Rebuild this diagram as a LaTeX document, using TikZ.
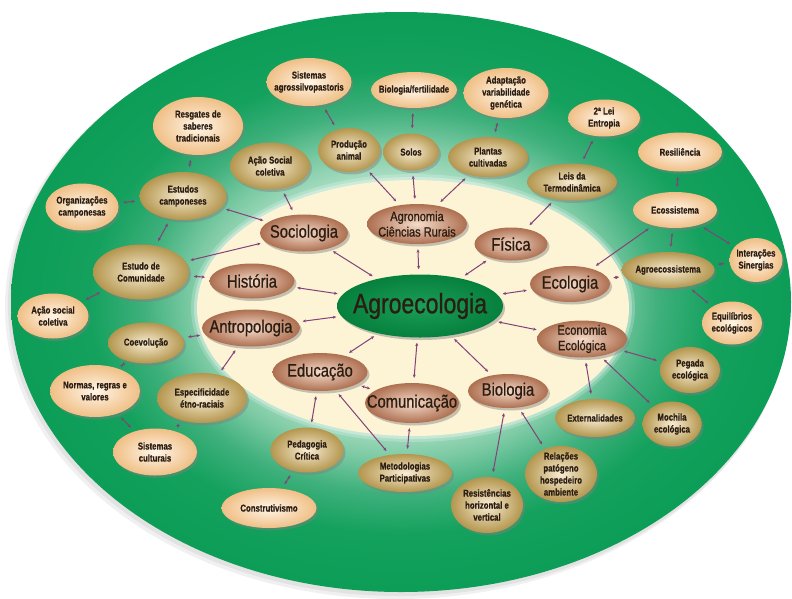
\documentclass[tikz,border=0pt]{standalone}
\usepackage{fontspec}
\setmainfont{Liberation Sans}
\newfontfamily\condfont{Liberation Sans}[FakeStretch=0.78,FakeBold=0.5]
\newfontfamily\midfont{Liberation Sans}[FakeStretch=0.82,FakeBold=0.8]
\usetikzlibrary{shapes.geometric,shadows,arrows.meta}
\definecolor{mintA}{HTML}{A6DCC0}
\definecolor{mintB}{HTML}{7CCAA4}
\definecolor{greenM}{HTML}{3FB07C}
\definecolor{greenN}{HTML}{14A15D}
\definecolor{greenD}{HTML}{0C9D57}
\definecolor{cream}{HTML}{FCF4D4}
\definecolor{brin}{HTML}{F6DCCB}
\definecolor{brout}{HTML}{AD6F50}
\definecolor{goin}{HTML}{F8EDD4}
\definecolor{goout}{HTML}{B4964E}
\definecolor{pein}{HTML}{FFF6E8}
\definecolor{peout}{HTML}{F0BF86}
\definecolor{txt}{HTML}{2B1D12}
\definecolor{lnk}{HTML}{834279}
\definecolor{agin}{HTML}{1B9E58}
\definecolor{agout}{HTML}{06803D}
\pgfdeclareradialshading{ringshade}{\pgfpoint{0bp}{0bp}}{color(0bp)=(mintA); color(11bp)=(mintA); color(13.5bp)=(mintB); color(16.5bp)=(greenM); color(20bp)=(greenN); color(25bp)=(greenD); color(50bp)=(greenD)}
\tikzset{
  base/.style={ellipse, inner sep=0pt, drop shadow={opacity=0.45, shadow xshift=2pt, shadow yshift=-2.5pt}},
  midn/.style={base, inner color=brin, outer color=brout},
  goldn/.style={base, inner color=goin, outer color=goout},
  peachn/.style={base, inner color=pein, outer color=peout},
  olab/.style={font=\condfont\bfseries\fontsize{10}{12}\selectfont, align=center, text=txt, inner sep=0pt},
  mlab/.style={font=\midfont\fontsize{18}{20}\selectfont, align=center, text=txt, inner sep=0pt},
  slab/.style={font=\midfont\fontsize{13.5}{15.5}\selectfont, align=center, text=txt, inner sep=0pt},
  link/.style={draw=lnk, line width=1pt, {Stealth[length=3.5pt,width=3pt]}-{Stealth[length=3.5pt,width=3pt]}, shorten <=5pt, shorten >=5pt},
}
\begin{document}
\begin{tikzpicture}[x=1pt,y=-1pt]
\useasboundingbox (0,0) rectangle (792,598);
% outer green ellipse with soft shadow
\fill[black, opacity=0.06] (397,307) ellipse [x radius=392pt, y radius=292pt];
\fill[black, opacity=0.06] (399,305) ellipse [x radius=391pt, y radius=291pt];
\shade[shading=ringshade] (401,302) ellipse [x radius=390pt, y radius=290pt];
% inner cream ellipse with glow
\fill[white, opacity=0.2] (413,308) ellipse [x radius=222pt, y radius=134pt];
\fill[white, opacity=0.3] (413,308) ellipse [x radius=219pt, y radius=131pt];
\fill[cream] (413,308) ellipse [x radius=216pt, y radius=128pt];

% centre
\node[ellipse, inner sep=0pt, minimum width=166pt, minimum height=63pt, inner color=agin, outer color=agout,
  drop shadow={opacity=0.45, shadow xshift=2pt, shadow yshift=-2.5pt},
  label={[font=\midfont\fontsize{28}{30}\selectfont, text=txt, inner sep=0pt]center:{Agroecologia}}] (agro) at (420,306) {};

% middle ring
\node[midn, minimum width=88pt, minimum height=37pt, label={[mlab]center:{Sociologia}}] (soc) at (304,233) {};
\node[midn, minimum width=100pt, minimum height=40pt, label={[slab]center:{Agronomia\\Ciências Rurais}}] (agron) at (417,224) {};
\node[midn, minimum width=73pt, minimum height=33pt, label={[mlab]center:{Física}}] (fis) at (511,244) {};
\node[midn, minimum width=80pt, minimum height=36pt, label={[mlab]center:{Ecologia}}] (ecol) at (570,284) {};
\node[midn, minimum width=90pt, minimum height=37pt, label={[slab]center:{Economia\\Ecológica}}] (econ) at (582,339) {};
\node[midn, minimum width=80pt, minimum height=34pt, label={[mlab]center:{Biologia}}] (biol) at (508,391) {};
\node[midn, minimum width=94pt, minimum height=40pt, label={[mlab]center:{Comunicação}}] (comun) at (412,403) {};
\node[midn, minimum width=95pt, minimum height=38pt, label={[mlab]center:{Educação}}] (educ) at (320,372) {};
\node[midn, minimum width=98pt, minimum height=37pt, label={[mlab]center:{Antropologia}}] (antro) at (251,328) {};
\node[midn, minimum width=85pt, minimum height=35pt, label={[mlab]center:{História}}] (hist) at (252,281) {};

% outer ring
\node[peachn, minimum width=85pt, minimum height=48pt, label={[olab]center:{Sistemas\\agrossilvopastoris}}] (sist) at (309,82) {};
\node[peachn, minimum width=86pt, minimum height=36pt, label={[olab]center:{Biologia/fertilidade}}] (biofert) at (414,90) {};
\node[peachn, minimum width=85pt, minimum height=50pt, label={[olab]center:{Adaptação\\variabilidade\\genética}}] (adapt) at (506,93) {};
\node[peachn, minimum width=90pt, minimum height=58pt, label={[olab]center:{Resgates de\\saberes\\tradicionais}}] (resg) at (198,126) {};
\node[goldn, minimum width=80pt, minimum height=47pt, label={[olab]center:{Ação Social\\coletiva}}] (acaosoc) at (270,166) {};
\node[goldn, minimum width=62pt, minimum height=44pt, label={[olab]center:{Produção\\animal}}] (prod) at (349,150) {};
\node[goldn, minimum width=56pt, minimum height=37pt, label={[olab]center:{Solos}}] (solos) at (411,152) {};
\node[goldn, minimum width=80pt, minimum height=40pt, label={[olab]center:{Plantas\\cultivadas}}] (plantas) at (488,157) {};
\node[peachn, minimum width=72pt, minimum height=37pt, label={[olab]center:{2ª Lei\\Entropia}}] (lei2) at (604,118) {};
\node[goldn, minimum width=90pt, minimum height=37pt, label={[olab]center:{Leis da\\Termodinâmica}}] (termo) at (572,182) {};
\node[peachn, minimum width=84pt, minimum height=39pt, label={[olab]center:{Resiliência}}] (resil) at (680,152) {};
\node[peachn, minimum width=73pt, minimum height=47pt, label={[olab]center:{Organizações\\camponesas}}] (org) at (82,207) {};
\node[goldn, minimum width=87pt, minimum height=48pt, label={[olab]center:{Estudos\\camponeses}}] (estcamp) at (183,196) {};
\node[peachn, minimum width=84pt, minimum height=36pt, label={[olab]center:{Ecossistema}}] (ecos) at (675,210) {};
\node[peachn, minimum width=53pt, minimum height=44pt, label={[olab]center:{Interações\\Sinergias}}] (inter) at (756,260) {};
\node[goldn, minimum width=93pt, minimum height=36pt, label={[olab]center:{Agroecossistema}}] (agroecos) at (668,270) {};
\node[goldn, minimum width=96pt, minimum height=55pt, label={[olab]center:{Estudo de\\Comunidade}}] (estcom) at (141,272) {};
\node[peachn, minimum width=71pt, minimum height=45pt, label={[olab]center:{Ação social\\coletiva}}] (acaosoc2) at (53,316) {};
\node[peachn, minimum width=60pt, minimum height=43pt, label={[olab]center:{Equilíbrios\\ecológicos}}] (equil) at (732,323) {};
\node[goldn, minimum width=76pt, minimum height=41pt, label={[olab]center:{Coevolução}}] (coev) at (146,343) {};
\node[peachn, minimum width=90pt, minimum height=52pt, label={[olab]center:{Normas, regras e\\valores}}] (normas) at (95,391) {};
\node[goldn, minimum width=90pt, minimum height=50pt, label={[olab]center:{Especificidade\\étno-raciais}}] (espec) at (202,398) {};
\node[goldn, minimum width=60pt, minimum height=46pt, label={[olab]center:{Pegada\\ecológica}}] (pegada) at (690,370) {};
\node[goldn, minimum width=80pt, minimum height=38pt, label={[olab]center:{Externalidades}}] (extern) at (595,418) {};
\node[goldn, minimum width=59pt, minimum height=45pt, label={[olab]center:{Mochila\\ecológica}}] (mochila) at (672,424) {};
\node[peachn, minimum width=84pt, minimum height=47pt, label={[olab]center:{Sistemas\\culturais}}] (sistcult) at (155,452) {};
\node[goldn, minimum width=73pt, minimum height=45pt, label={[olab]center:{Pedagogia\\Crítica}}] (pedag) at (307,450) {};
\node[goldn, minimum width=94pt, minimum height=38pt, label={[olab]center:{Metodologias\\Participativas}}] (metod) at (405,473) {};
\node[goldn, minimum width=72pt, minimum height=56pt, label={[olab]center:{Relações\\patógeno\\hospedeiro\\ambiente}}] (relac) at (561,474) {};
\node[goldn, minimum width=72pt, minimum height=56pt, label={[olab]center:{Resistências\\horizontal e\\vertical}}] (resist) at (487,505) {};
\node[peachn, minimum width=95pt, minimum height=40pt, label={[olab]center:{Construtivismo}}] (constr) at (269,508) {};

% connectors
\foreach \a/\b in {sist/prod, prod/agron, biofert/solos, solos/agron, adapt/plantas, plantas/agron,
  lei2/termo, termo/fis, resil/ecos, ecos/agroecos, ecos/inter, agroecos/inter, agroecos/equil,
  agroecos/ecol, ecos/ecol, fis/agro, ecol/agro, agro/econ, econ/pegada, econ/extern, econ/mochila,
  agro/biol, biol/resist, biol/relac, agro/comun, comun/metod, agro/educ, educ/comun, educ/pedag,
  educ/metod, pedag/constr, antro/agro, hist/agro, soc/agro, agron/agro, soc/acaosoc, soc/estcamp,
  soc/estcom, hist/estcom, estcamp/org, estcamp/resg, estcamp/estcom, estcom/acaosoc2, antro/coev,
  antro/espec, coev/normas, normas/sistcult, espec/sistcult}
  \draw[link] (\a) -- (\b);
\end{tikzpicture}
\end{document}
